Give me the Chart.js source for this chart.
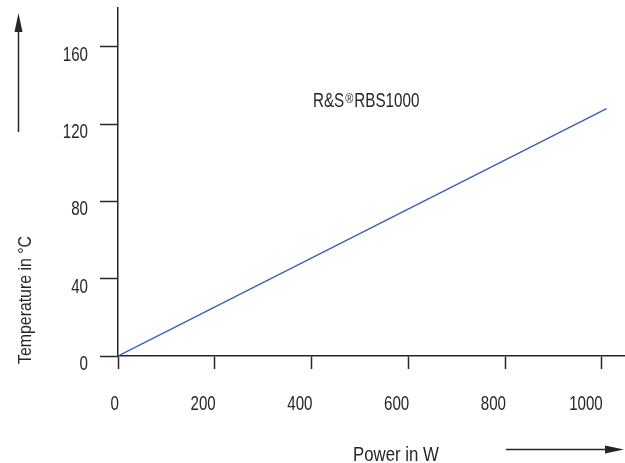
<!DOCTYPE html>
<html>
<head>
<meta charset="utf-8">
<script src="https://cdn.jsdelivr.net/npm/chart.js@4"></script>
<style>
  html, body { margin: 0; padding: 0; background: #fff; }
  canvas { display: block; }
</style>
</head>
<body>
<canvas id="tempChart" width="625" height="463"></canvas>
<script>
// values
const powerW = [0, 1010];
const tempC = [0, 128];
const xTicks = [0, 200, 400, 600, 800, 1000];
const yTicks = [0, 40, 80, 120, 160];
const xTitle = "Power in W";
const yTitle = "Temperature in °C";
const seriesName = ["R&S", "®", "RBS1000"];

const ink = "#262626";
const family = "'Liberation Sans', Arial, sans-serif";

// no condensed face installed, so squeeze the regular one horizontally
function narrowText(ctx, text, x, y, size, sx, align) {
  ctx.save();
  ctx.font = size + "px " + family;
  ctx.textAlign = align;
  ctx.textBaseline = "alphabetic";
  ctx.translate(x, y);
  ctx.scale(sx, 1);
  ctx.fillText(text, 0, 0);
  const w = ctx.measureText(text).width * sx;
  ctx.restore();
  return w;
}

function arrow(ctx, x1, y1, x2, y2) {
  const a = Math.atan2(y2 - y1, x2 - x1);
  const len = 19, half = 4;
  const bx = x2 - len * Math.cos(a), by = y2 - len * Math.sin(a);
  ctx.beginPath();
  ctx.moveTo(x1, y1);
  ctx.lineTo(bx, by);
  ctx.stroke();
  ctx.beginPath();
  ctx.moveTo(x2, y2);
  ctx.lineTo(bx + half * Math.sin(a), by - half * Math.cos(a));
  ctx.lineTo(bx - half * Math.sin(a), by + half * Math.cos(a));
  ctx.closePath();
  ctx.fill();
}

// tick labels, axis titles, arrows and the series label
const decor = {
  id: "decor",
  afterDraw(chart) {
    const ctx = chart.ctx;
    const xs = chart.scales.x, ys = chart.scales.y;
    ctx.save();
    ctx.fillStyle = ink;
    ctx.strokeStyle = ink;
    ctx.lineWidth = 1.5;

    xs.ticks.forEach((t, i) => {
      narrowText(ctx, String(t.value), xs.getPixelForTick(i) + 1, 410, 21, 0.72, "right");
    });
    ys.ticks.forEach((t, i) => {
      narrowText(ctx, String(t.value), 88, ys.getPixelForTick(i) + 14, 21, 0.72, "right");
    });

    arrow(ctx, 18.5, 132, 18.5, 13);
    arrow(ctx, 506, 449.5, 624, 449.5);

    narrowText(ctx, xTitle, 396, 461, 21, 0.8, "center");

    ctx.save();
    ctx.translate(31, 300);
    ctx.rotate(-Math.PI / 2);
    narrowText(ctx, yTitle, 0, 0, 18, 0.88, "center");
    ctx.restore();

    // series label, anchored to data coordinates
    let lx = xs.getPixelForValue(403);
    const ly = ys.getPixelForValue(129);
    lx += narrowText(ctx, seriesName[0], lx, ly, 20, 0.76, "left") + 1;
    lx += narrowText(ctx, seriesName[1], lx, ly - 4, 13, 0.85, "left") + 1;
    narrowText(ctx, seriesName[2], lx, ly, 20, 0.76, "left");
    ctx.restore();
  }
};

const points = powerW.map((x, i) => ({ x, y: tempC[i] }));

new Chart(document.getElementById("tempChart"), {
  type: "line",
  data: {
    datasets: [{
      data: points,
      parsing: false,
      borderColor: "#3a5eb4",
      borderWidth: 1.4,
      pointRadius: 0,
      tension: 0
    }]
  },
  options: {
    responsive: false,
    animation: false,
    layout: { padding: { top: 8, right: 0, bottom: 0, left: 0 } },
    plugins: { legend: { display: false }, tooltip: { enabled: false } },
    scales: {
      x: {
        type: "linear",
        min: 0,
        max: 1048,
        afterBuildTicks: s => { s.ticks = xTicks.map(v => ({ value: v })); },
        afterFit: s => { s.height = 107; s.paddingLeft = 0; s.paddingRight = 0; },
        ticks: { display: false },
        grid: { drawOnChartArea: false, drawTicks: true, tickLength: 13, tickColor: ink, tickWidth: 1.5 },
        border: { display: true, color: ink, width: 1.5 }
      },
      y: {
        type: "linear",
        min: 0,
        max: 180,
        afterBuildTicks: s => { s.ticks = yTicks.map(v => ({ value: v })); },
        afterFit: s => { s.width = 118; s.paddingTop = 0; s.paddingBottom = 0; },
        ticks: { display: false },
        grid: { drawOnChartArea: false, drawTicks: true, tickLength: 18, tickColor: ink, tickWidth: 1.5 },
        border: { display: true, color: ink, width: 1.5 }
      }
    }
  },
  plugins: [decor]
});
</script>
</body>
</html>
